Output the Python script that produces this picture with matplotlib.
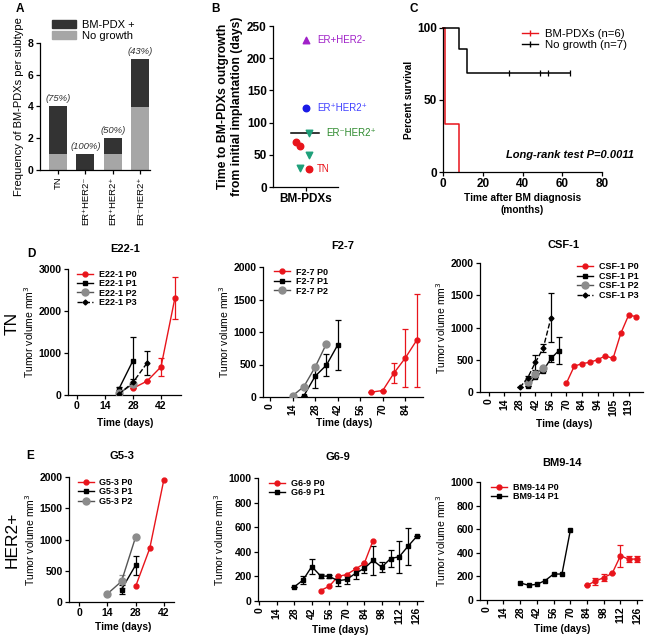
import matplotlib
matplotlib.use('Agg')
import matplotlib.pyplot as plt
import numpy as np
from matplotlib.lines import Line2D
from matplotlib.patches import Patch

plt.rcParams['font.family'] = ['Liberation Sans', 'DejaVu Sans']
plt.rcParams['axes.linewidth'] = 0.9

RED = '#e8141b'
GRAY = '#8c8c8c'

# ---- panel A data
a_subtypes = ['TN', 'ER⁺HER2⁻', 'ER⁺HER2⁺', 'ER⁻HER2⁺']
a_no_growth = [1, 0, 1, 4]
a_bm_pdx = [3, 1, 1, 3]
a_pct = ['(75%)', '(100%)', '(50%)', '(43%)']

# ---- panel B data (days to outgrowth)
b_tn = [70, 63, 28]
b_er_neg_her2_pos = [84, 50, 29]
b_er_pos_her2_pos = [123]
b_er_pos_her2_neg = [228]

# ---- panel C data (Kaplan-Meier)
c_bm_time = [0, 1, 8]
c_bm_surv = [100, 33.3, 0]
c_ng_time = [0, 8, 12, 64]
c_ng_surv = [100, 85.7, 68.6, 68.6]
c_ng_censor = [33, 49, 53, 64]

# ---- panel D data
e22_p0_day = [28, 35, 42, 49]
e22_p0_vol = [160, 330, 670, 2320]
e22_p0_err = [0, 0, 220, 500]
e22_p1_day = [21, 28]
e22_p1_vol = [150, 820]
e22_p1_err = [30, 570]
e22_p2_day = [21, 28]
e22_p2_vol = [40, 260]
e22_p3_day = [21, 28, 35]
e22_p3_vol = [20, 300, 760]
e22_p3_err = [0, 80, 280]

f27_p0_day = [63, 70, 77, 84, 91]
f27_p0_vol = [75, 100, 370, 600, 870]
f27_p0_err = [0, 0, 155, 440, 710]
f27_p1_day = [21, 28, 35, 42]
f27_p1_vol = [20, 320, 490, 800]
f27_p1_err = [0, 180, 170, 390]
f27_p2_day = [14, 21, 28, 35]
f27_p2_vol = [20, 160, 460, 820]

csf_p0_day = [70, 77, 84, 91, 98, 105, 112, 119, 126, 133]
csf_p0_vol = [140, 400, 440, 460, 500, 560, 520, 910, 1190, 1170]
csf_p1_day = [35, 42, 49, 56, 63]
csf_p1_vol = [100, 230, 330, 520, 640]
csf_p1_err = [0, 0, 0, 60, 210]
csf_p2_day = [35, 42, 49]
csf_p2_vol = [150, 280, 370]
csf_p3_day = [28, 35, 42, 49, 56]
csf_p3_vol = [70, 220, 460, 680, 1150]
csf_p3_err = [0, 30, 120, 60, 380]
csf_tick_labels = ['0', '14', '28', '42', '56', '70', '84', '94', '105', '119']

# ---- panel E data
g53_p0_day = [28, 35, 42]
g53_p0_vol = [250, 860, 1960]
g53_p1_day = [21, 28]
g53_p1_vol = [200, 590]
g53_p1_err = [70, 150]
g53_p2_day = [14, 21, 28]
g53_p2_vol = [130, 330, 1040]
g53_p2_err = [0, 110, 0]

g69_p0_day = [49, 56, 63, 70, 77, 84, 91]
g69_p0_vol = [85, 120, 200, 215, 260, 305, 490]
g69_p1_day = [28, 35, 42, 49, 56, 63, 70, 77, 84, 91, 98, 105, 112, 119, 126]
g69_p1_vol = [115, 170, 280, 205, 200, 165, 175, 225, 265, 330, 275, 345, 360, 445, 525]
g69_p1_err = [0, 35, 60, 15, 15, 40, 40, 45, 40, 120, 40, 70, 130, 150, 0]

bm914_p0_day = [84, 91, 98, 105, 112, 119, 126]
bm914_p0_vol = [125, 160, 190, 225, 375, 345, 348]
bm914_p0_err = [0, 30, 30, 0, 95, 25, 25]
bm914_p1_day = [28, 35, 42, 49, 56, 63, 70]
bm914_p1_vol = [145, 125, 133, 165, 220, 220, 590]

W, H = 646, 638
fig = plt.figure(figsize=(W / 100, H / 100), dpi=100)


def add_ax(l, t, r, b):
    ax = fig.add_axes([l / W, 1 - b / H, (r - l) / W, (b - t) / H])
    ax.spines['top'].set_visible(False)
    ax.spines['right'].set_visible(False)
    ax.tick_params(direction='out', length=3, width=0.9, labelsize=7.5, pad=1.5)
    return ax


def bold_ticks(ax):
    plt.setp(ax.get_xticklabels() + ax.get_yticklabels(), fontweight='bold')


def ftext(x, y, s, **kw):
    fig.text(x / W, 1 - y / H, s, ha='center', va='center', **kw)


# ================= A
ax = add_ax(40, 43, 150, 170)
xa = np.arange(len(a_subtypes))
ax.bar(xa, a_no_growth, width=0.66, color='#a6a6a6')
ax.bar(xa, a_bm_pdx, bottom=a_no_growth, width=0.66, color='#333333')
for i, p in enumerate(a_pct):
    ax.text(xa[i], a_no_growth[i] + a_bm_pdx[i] + 0.2, p, ha='center', va='bottom',
            fontsize=6.8, style='italic', color='#333333')
ax.set_xlim(-0.65, 3.35)
ax.set_ylim(0, 8)
ax.set_yticks([0, 2, 4, 6, 8])
ax.set_xticks(xa, a_subtypes, rotation=90, fontsize=6.8)
ax.set_ylabel('Frequency of BM-PDXs per subtype', fontsize=8, labelpad=3)
plt.setp(ax.get_yticklabels(), fontweight='bold')
ax.legend(handles=[Patch(color='#333333', label='BM-PDX +'),
                   Patch(color='#a6a6a6', label='No growth')],
          loc='upper left', bbox_to_anchor=(46 / W, 1 - 14 / H), bbox_transform=fig.transFigure,
          frameon=False, fontsize=8, handlelength=2.2, handleheight=0.8,
          labelspacing=0.1, borderpad=0, handletextpad=0.5)

# ================= B
ax = add_ax(273, 26, 338, 187)
ax.scatter(1 + np.array([-0.29, -0.17, 0.11]), b_tn, s=22, color=RED, zorder=3)
ax.scatter(1 + np.array([0.11, 0.11, -0.17]), b_er_neg_her2_pos, s=22, marker='v',
           color='#1fa07a', zorder=3)
ax.scatter([1], b_er_pos_her2_pos, s=22, color='#1a1ae6', zorder=3)
ax.scatter([1], b_er_pos_her2_neg, s=22, marker='^', color='#a020c8', zorder=3)
b_all = b_tn + b_er_neg_her2_pos + b_er_pos_her2_pos + b_er_pos_her2_neg
ax.plot([0.55, 1.43], [np.mean(b_all)] * 2, color='black', lw=1.1, zorder=2)
ax.text(1.35, b_er_pos_her2_neg[0], 'ER+HER2-', color='#a020c8', fontsize=7, va='center')
ax.text(1.35, b_er_pos_her2_pos[0], 'ER⁺HER2⁺', color='#4040ff', fontsize=7, va='center')
ax.text(1.63, b_er_neg_her2_pos[0], 'ER⁻HER2⁺', color='#2e8b2e', fontsize=7, va='center')
ax.text(1.35, b_tn[2], 'TN', color=RED, fontsize=7, va='center')
ax.set_xlim(0, 2)
ax.set_ylim(0, 250)
ax.set_yticks([0, 50, 100, 150, 200, 250])
ax.set_xticks([1], ['BM-PDXs'])
ax.tick_params(labelsize=8.5)
ax.set_ylabel('Time to BM-PDXs outgrowth\nfrom initial implantation (days)',
              fontsize=8.8, fontweight='bold', labelpad=3)
bold_ticks(ax)

# ================= C
ax = add_ax(443, 28, 602, 172)
ax.step(c_bm_time, c_bm_surv, where='post', color=RED, lw=1.1, clip_on=False)
ax.step(c_ng_time, c_ng_surv, where='post', color='black', lw=1.1, clip_on=False)
ax.plot(c_ng_censor, [c_ng_surv[-1]] * len(c_ng_censor), ls='none', marker='|',
        ms=4, mew=0.9, color='black')
ax.set_xlim(0, 80)
ax.set_ylim(0, 100)
ax.set_xticks([0, 20, 40, 60, 80])
ax.set_yticks([0, 50, 100])
ax.tick_params(labelsize=8.5)
ax.set_ylabel('Percent survival', fontsize=7.3, fontweight='bold', labelpad=2)
ax.set_xlabel('Time after BM diagnosis\n(months)', fontsize=7.3, fontweight='bold', labelpad=2)
ax.text(1.2, 0.12, 'Long-rank test P=0.0011', transform=ax.transAxes, ha='right',
        va='center', fontsize=8, fontweight='bold', style='italic')
ax.legend(handles=[Line2D([], [], color=RED, marker='|', ms=4, lw=1, label='BM-PDXs (n=6)'),
                   Line2D([], [], color='black', marker='|', ms=4, lw=1, label='No growth (n=7)')],
          loc='upper right', bbox_to_anchor=(1.19, 1.03), frameon=False, fontsize=8.2,
          handlelength=1.4, labelspacing=0.05, borderpad=0, handletextpad=0.6)
bold_ticks(ax)


# ================= growth curves
def series(ax, day, vol, err, kind, label):
    if kind == 'P0':
        kw = dict(color=RED, marker='o', ms=3.5, ls='-', mfc=RED, mec=RED)
        ecol = RED
    elif kind == 'P1':
        kw = dict(color='black', marker='s', ms=3, ls='-')
        ecol = 'black'
    elif kind == 'P2':
        kw = dict(color='#555555', marker='o', ms=5, ls='-', mfc=GRAY, mec=GRAY)
        ecol = GRAY
    else:
        kw = dict(color='black', marker='D', ms=2.5, ls='--')
        ecol = 'black'
    if err is not None:
        ax.errorbar(day, vol, yerr=err, fmt='none', ecolor=ecol, elinewidth=0.9,
                    capsize=2.2, capthick=0.9, zorder=2)
    ax.plot(day, vol, lw=1, label=label, zorder=3, **kw)


def finish(ax, xlim, ylim, yticks, xticks, xlab_pos, xlabels=None, rot=0,
           legend_loc='upper left', anchor=(0.04, 1.03)):
    ax.set_xlim(*xlim)
    ax.set_ylim(*ylim)
    ax.set_yticks(yticks)
    ax.set_xticks(xticks, xlabels if xlabels else [str(t) for t in xticks], rotation=rot)
    ax.set_ylabel('Tumor volume mm$^3$', fontsize=7.5, labelpad=2)
    ftext(xlab_pos[0], xlab_pos[1], 'Time (days)', fontsize=7.3, fontweight='bold')
    leg = ax.legend(loc=legend_loc, bbox_to_anchor=anchor, frameon=False, fontsize=6.5,
                    handlelength=1.8, labelspacing=0.05, borderpad=0, handletextpad=0.6)
    plt.setp(leg.get_texts(), fontweight='bold')
    bold_ticks(ax)


# D1 E22-1
ax = add_ax(68, 269, 181, 395)
series(ax, e22_p0_day, e22_p0_vol, e22_p0_err, 'P0', 'E22-1 P0')
series(ax, e22_p1_day, e22_p1_vol, e22_p1_err, 'P1', 'E22-1 P1')
series(ax, e22_p2_day, e22_p2_vol, None, 'P2', 'E22-1 P2')
series(ax, e22_p3_day, e22_p3_vol, e22_p3_err, 'P3', 'E22-1 P3')
finish(ax, (-4.5, 52), (0, 3000), [0, 1000, 2000, 3000], [0, 14, 28, 42], (125, 423))

# D2 F2-7
ax = add_ax(263, 267, 423, 397)
series(ax, f27_p0_day, f27_p0_vol, f27_p0_err, 'P0', 'F2-7 P0')
series(ax, f27_p1_day, f27_p1_vol, f27_p1_err, 'P1', 'F2-7 P1')
series(ax, f27_p2_day, f27_p2_vol, None, 'P2', 'F2-7 P2')
finish(ax, (-4.4, 95), (0, 2000), [0, 500, 1000, 1500, 2000], list(range(0, 85, 14)),
       (344, 423), rot=90)

# D3 CSF-1
ax = add_ax(480, 263, 643, 392)
series(ax, csf_p0_day, csf_p0_vol, None, 'P0', 'CSF-1 P0')
series(ax, csf_p1_day, csf_p1_vol, csf_p1_err, 'P1', 'CSF-1 P1')
series(ax, csf_p2_day, csf_p2_vol, None, 'P2', 'CSF-1 P2')
series(ax, csf_p3_day, csf_p3_vol, csf_p3_err, 'P3', 'CSF-1 P3')
finish(ax, (-8, 139), (0, 2000), [0, 500, 1000, 1500, 2000], list(range(0, 127, 14)),
       (564, 424), csf_tick_labels, rot=90, legend_loc='upper right', anchor=(1.0, 1.04))

# E1 G5-3
ax = add_ax(69, 477, 174, 602)
series(ax, g53_p0_day, g53_p0_vol, None, 'P0', 'G5-3 P0')
series(ax, g53_p1_day, g53_p1_vol, g53_p1_err, 'P1', 'G5-3 P1')
series(ax, g53_p2_day, g53_p2_vol, g53_p2_err, 'P2', 'G5-3 P2')
finish(ax, (-5, 47), (0, 2000), [0, 500, 1000, 1500, 2000], [0, 14, 28, 42], (123, 627))

# E2 G6-9
ax = add_ax(258, 478, 423, 601)
series(ax, g69_p0_day, g69_p0_vol, None, 'P0', 'G6-9 P0')
series(ax, g69_p1_day, g69_p1_vol, g69_p1_err, 'P1', 'G6-9 P1')
finish(ax, (-1, 131), (0, 1000), [0, 200, 400, 600, 800, 1000], list(range(0, 127, 14)),
       (340, 630), rot=90)

# E3 BM9-14
ax = add_ax(480, 482, 642, 600)
series(ax, bm914_p0_day, bm914_p0_vol, bm914_p0_err, 'P0', 'BM9-14 P0')
series(ax, bm914_p1_day, bm914_p1_vol, None, 'P1', 'BM9-14 P1')
finish(ax, (-5.6, 130), (0, 1000), [0, 200, 400, 600, 800, 1000], list(range(0, 127, 14)),
       (562, 629), rot=90)

# titles, panel letters, row labels
for x, y, s in [(125, 249, 'E22-1'), (343, 246, 'F2-7'), (564, 245, 'CSF-1'),
                (122, 456, 'G5-3'), (338, 457, 'G6-9'), (562, 463, 'BM9-14')]:
    ftext(x, y, s, fontsize=8, fontweight='bold')
for x, y, s in [(20, 9, 'A'), (216, 9, 'B'), (414, 9, 'C'), (31, 254, 'D'), (30, 456, 'E')]:
    ftext(x, y, s, fontsize=8.5, fontweight='bold')
ftext(12, 323, 'TN', fontsize=12.5, rotation=90)
ftext(12, 540, 'HER2+', fontsize=12.5, rotation=90)

fig.savefig('out.png', dpi=100)
